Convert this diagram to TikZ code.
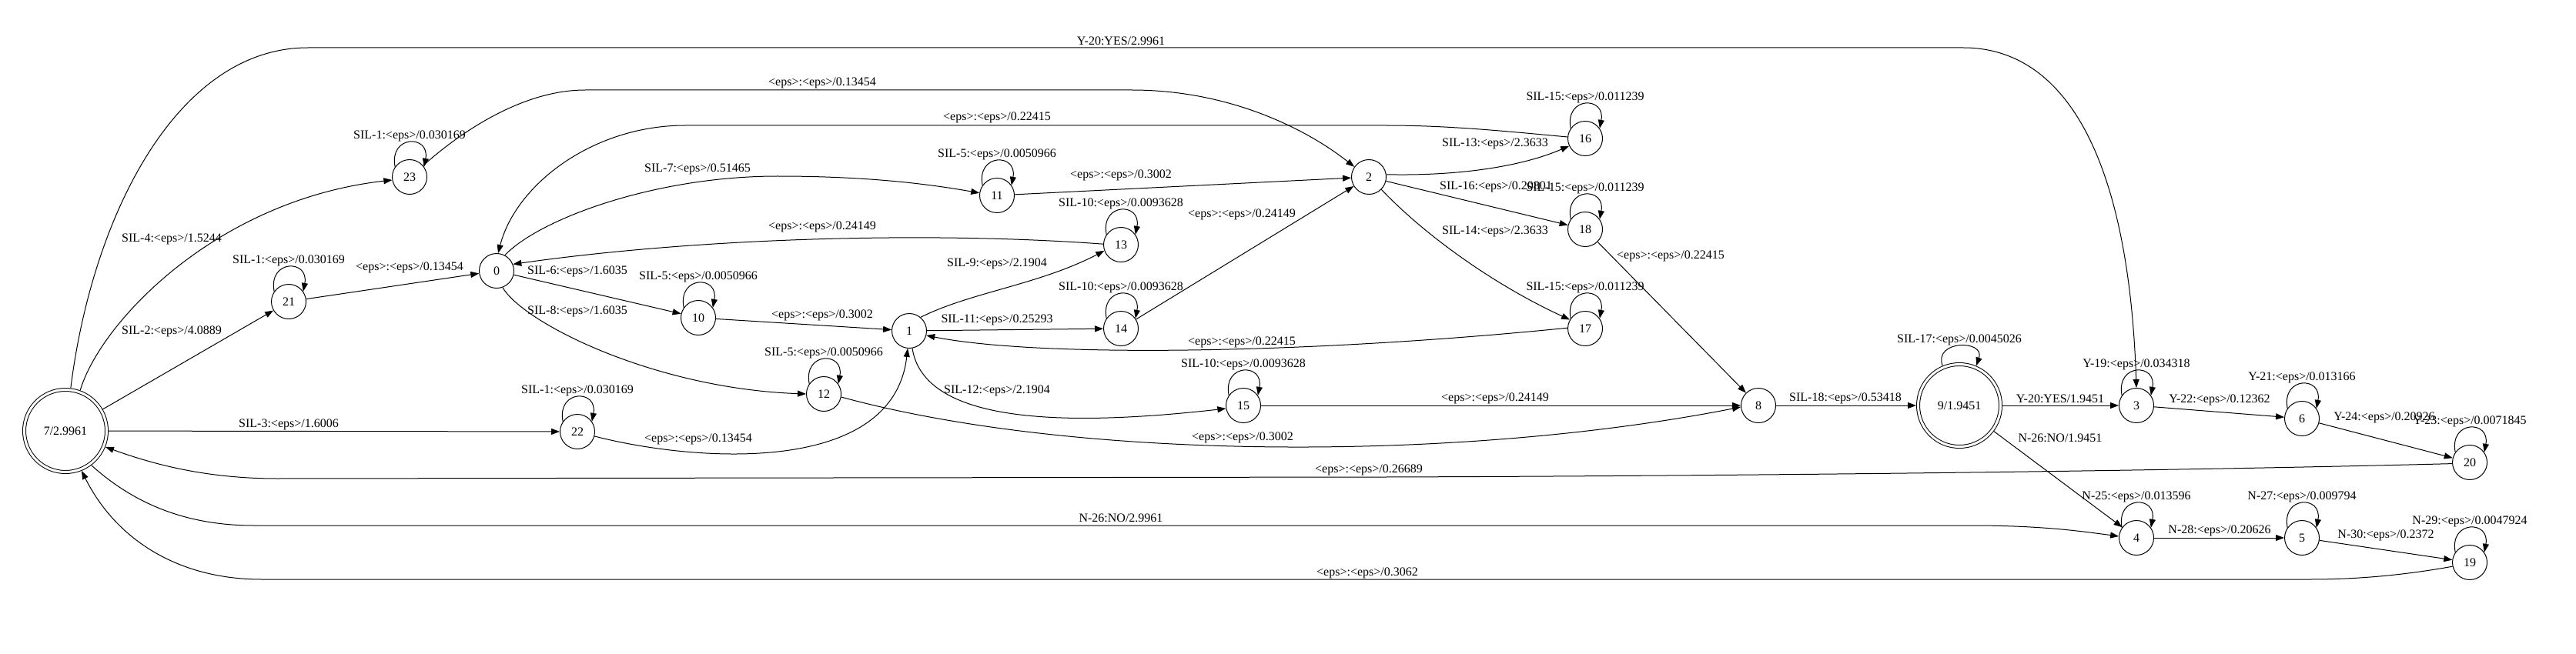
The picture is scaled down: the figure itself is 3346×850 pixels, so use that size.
\documentclass[tikz,border=0pt]{standalone}
\usepackage{fontspec}
\setmainfont{Liberation Serif}
\usetikzlibrary{arrows.meta}
\newcommand{\myloop}[2]{\draw[arr] (#1.145) .. controls +(-8,-42) and +(8,-42) .. node[lbl,above] {#2} (#1.35);}
\begin{document}
\begin{tikzpicture}[x=1pt,y=-1pt,
  st/.style={circle,draw,line width=1pt,minimum size=45pt,inner sep=0pt,font=\fontsize{16}{19}\selectfont},
  fin/.style={circle,draw,line width=1pt,double,double distance=3pt,minimum size=107pt,inner sep=0pt,outer sep=2.5pt,font=\fontsize{16}{19}\selectfont},
  arr/.style={line width=1pt,-{Triangle[length=11pt,width=8pt]}},
  lbl/.style={inner sep=1pt,font=\fontsize{16}{19}\selectfont}]
\fill[white] (0,0) rectangle (3346,850);
\useasboundingbox (0,0) rectangle (3346,850);

% states
\node[fin] (n7) at (85,560) {7/2.9961};
\node[st] (n23) at (532,230) {23};
\node[st] (n21) at (375,392) {21};
\node[st] (n0) at (645,352) {0};
\node[st] (n22) at (750,561) {22};
\node[st] (n10) at (907,413) {10};
\node[st] (n12) at (1070,512) {12};
\node[st] (n11) at (1295,254) {11};
\node[st] (n1) at (1181,430) {1};
\node[st] (n13) at (1456,318) {13};
\node[st] (n14) at (1456,427) {14};
\node[st] (n2) at (1778,230) {2};
\node[st] (n15) at (1615,527) {15};
\node[st] (n16) at (2059,180) {16};
\node[st] (n18) at (2059,298) {18};
\node[st] (n17) at (2059,427) {17};
\node[st] (n8) at (2284,527) {8};
\node[fin] (n9) at (2545,527) {9/1.9451};
\node[st] (n3) at (2775,527) {3};
\node[st] (n6) at (2990,544) {6};
\node[st] (n20) at (3208,601) {20};
\node[st] (n4) at (2775,699) {4};
\node[st] (n5) at (2990,699) {5};
\node[st] (n19) at (3208,731) {19};

% long arcs from / to 7
\draw[arr] (n7.83) .. controls (120,280) and (230,62) .. (400,62) -- (2550,62) .. controls (2680,62) and (2765,200) .. (n3.north);
\draw[arr] (n7.70) .. controls (130,420) and (280,260) .. (n23.190);
\draw[arr] (n7) -- (n21);
\draw[arr] (n7) -- (n22);
\draw[arr] (n20.184) .. controls (2900,610) and (2400,618) .. (1800,620) -- (360,622) .. controls (260,622) and (190,600) .. (n7.-22);
\draw[arr] (n7.-53) .. controls (180,660) and (250,683) .. (330,683) -- (2560,683) .. controls (2650,683) and (2700,690) .. (n4.175);
\draw[arr] (n19.193) .. controls (3120,748) and (3060,753) .. (3000,753) -- (340,753) .. controls (230,753) and (150,700) .. (n7.-68);

% SIL part
\draw[arr] (n23.40) .. controls (600,170) and (680,117) .. (760,117) -- (1470,117) .. controls (1600,117) and (1700,170) .. (n2.145);
\draw[arr] (n21) -- (n0);
\draw[arr] (n22.-15) .. controls (900,600) and (1160,620) .. (n1.-95);
\draw[arr] (n0) -- (n10);
\draw[arr] (n0.-70) .. controls (680,420) and (850,505) .. (n12.180);
\draw[arr] (n0.62) .. controls (700,285) and (850,229) .. (1010,229) .. controls (1120,229) and (1200,238) .. (n11.172);
\draw[arr] (n16.175) .. controls (1950,170) and (1880,163) .. (1800,163) -- (890,163) .. controls (770,163) and (670,240) .. (n0.85);
\draw[arr] (n13.178) .. controls (1200,300) and (900,310) .. (n0.22);
\draw[arr] (n10) -- (n1);
\draw[arr] (n11) -- (n2);
\draw[arr] (n12.-10) .. controls (1400,600) and (1900,600) .. (n8.185);
\draw[arr] (n1.50) .. controls (1260,380) and (1350,370) .. (n13.200);
\draw[arr] (n1) -- (n14);
\draw[arr] (n1.-80) .. controls (1200,550) and (1380,555) .. (n15.190);
\draw[arr] (n17.178) .. controls (1700,460) and (1350,465) .. (n1.-15);
\draw[arr] (n14) -- (n2);
\draw[arr] (n15) -- (n8);
\draw[arr] (n2.8) .. controls (1900,229) and (1980,215) .. (n16.205);
\draw[arr] (n2) -- (n18);
\draw[arr] (n2.-45) .. controls (1850,305) and (1940,370) .. (n17.150);
\draw[arr] (n18) -- (n8);
\draw[arr] (n8) -- (n9);
\draw[arr] (n9) -- (n3);
\draw[arr] (n9) -- (n4);
\draw[arr] (n3) -- (n6);
\draw[arr] (n6) -- (n20);
\draw[arr] (n4) -- (n5);
\draw[arr] (n5) -- (n19);

% self loops
\myloop{n23}{SIL-1:<eps>/0.030169}
\myloop{n21}{SIL-1:<eps>/0.030169}
\myloop{n22}{SIL-1:<eps>/0.030169}
\myloop{n10}{SIL-5:<eps>/0.0050966}
\myloop{n11}{SIL-5:<eps>/0.0050966}
\myloop{n12}{SIL-5:<eps>/0.0050966}
\myloop{n13}{SIL-10:<eps>/0.0093628}
\myloop{n14}{SIL-10:<eps>/0.0093628}
\myloop{n15}{SIL-10:<eps>/0.0093628}
\myloop{n16}{SIL-15:<eps>/0.011239}
\myloop{n18}{SIL-15:<eps>/0.011239}
\myloop{n17}{SIL-15:<eps>/0.011239}
\draw[arr] (n9.113) .. controls +(-12,-34) and +(12,-34) .. node[lbl,above] {SIL-17:<eps>/0.0045026} (n9.67);
\myloop{n3}{Y-19:<eps>/0.034318}
\myloop{n6}{Y-21:<eps>/0.013166}
\myloop{n20}{Y-23:<eps>/0.0071845}
\myloop{n4}{N-25:<eps>/0.013596}
\myloop{n5}{N-27:<eps>/0.009794}
\myloop{n19}{N-29:<eps>/0.0047924}

% edge labels
\node[lbl] (l1) at (1456,53) {Y-20:YES/2.9961};
\node[lbl] (l2) at (223,311) {SIL-4:<eps>/1.5244};
\node[lbl] (l3) at (223,431) {SIL-2:<eps>/4.0889};
\node[lbl] (l4) at (375,552) {SIL-3:<eps>/1.6006};
\node[lbl] (l5) at (1778,611) {<eps>:<eps>/0.26689};
\node[lbl] (l6) at (1456,673) {N-26:NO/2.9961};
\node[lbl] (l7) at (1776,745) {<eps>:<eps>/0.3062};
\node[lbl] (l8) at (1068,108) {<eps>:<eps>/0.13454};
\node[lbl] (l9) at (532,348) {<eps>:<eps>/0.13454};
\node[lbl] (l10) at (907,571) {<eps>:<eps>/0.13454};
\node[lbl] (l11) at (750,353) {SIL-6:<eps>/1.6035};
\node[lbl] (l12) at (750,405) {SIL-8:<eps>/1.6035};
\node[lbl] (l13) at (906,220) {SIL-7:<eps>/0.51465};
\node[lbl] (l14) at (1295,153) {<eps>:<eps>/0.22415};
\node[lbl] (l15) at (1068,295) {<eps>:<eps>/0.24149};
\node[lbl] (l16) at (1068,410) {<eps>:<eps>/0.3002};
\node[lbl] (l17) at (1456,228) {<eps>:<eps>/0.3002};
\node[lbl] (l18) at (1295,343) {SIL-9:<eps>/2.1904};
\node[lbl] (l19) at (1295,416) {SIL-11:<eps>/0.25293};
\node[lbl] (l20) at (1613,279) {<eps>:<eps>/0.24149};
\node[lbl] (l21) at (1613,445) {<eps>:<eps>/0.22415};
\node[lbl] (l22) at (1295,508) {SIL-12:<eps>/2.1904};
\node[lbl] (l23) at (1614,569) {<eps>:<eps>/0.3002};
\node[lbl] (l24) at (1942,518) {<eps>:<eps>/0.24149};
\node[lbl] (l25) at (1942,187) {SIL-13:<eps>/2.3633};
\node[lbl] (l26) at (1943,243) {SIL-16:<eps>/0.20801};
\node[lbl] (l27) at (1942,301) {SIL-14:<eps>/2.3633};
\node[lbl] (l28) at (2170,333) {<eps>:<eps>/0.22415};
\node[lbl] (l29) at (2397,518) {SIL-18:<eps>/0.53418};
\node[lbl] (l30) at (2676,518) {Y-20:YES/1.9451};
\node[lbl] (l31) at (2676,569) {N-26:NO/1.9451};
\node[lbl] (l32) at (2883,520) {Y-22:<eps>/0.12362};
\node[lbl] (l33) at (3097,543) {Y-24:<eps>/0.20926};
\node[lbl] (l34) at (2883,690) {N-28:<eps>/0.20626};
\node[lbl] (l35) at (3099,696) {N-30:<eps>/0.2372};
\end{tikzpicture}
\end{document}
